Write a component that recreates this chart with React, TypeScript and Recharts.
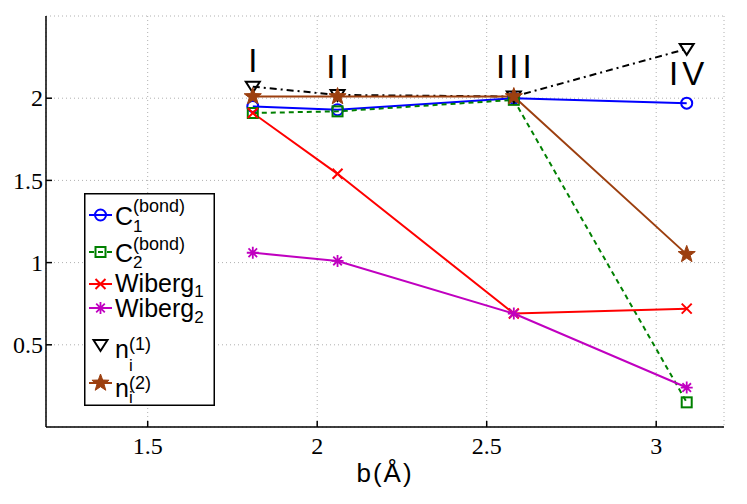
import { ComposedChart, Line, XAxis, YAxis, CartesianGrid, Legend } from "recharts";

// bond length b (Å) and the bond-order measures
const bValues = [1.81, 2.06, 2.58, 3.09];
const c1Bond = [1.95, 1.93, 2.0, 1.97];
const c2Bond = [1.91, 1.92, 1.99, 0.15];
const wiberg1 = [1.91, 1.54, 0.69, 0.72];
const wiberg2 = [1.06, 1.01, 0.69, 0.24];
const nI1 = [2.07, 2.02, 2.01, 2.3];
const nI2 = [2.01, 2.01, 2.01, 1.05];

// roman numerals above each geometry
const regionLabels = ["I", "II", "III", "IV"];
const regionLabelY = [2.16, 2.12, 2.12, 2.08];

const xTicks = [1.5, 2, 2.5, 3];
const yTicks = [0.5, 1, 1.5, 2];

const rows = bValues.map((b, i) => ({
  b,
  c1: c1Bond[i],
  c2: c2Bond[i],
  w1: wiberg1[i],
  w2: wiberg2[i],
  n1: nI1[i],
  n2: nI2[i],
  roman: regionLabelY[i],
}));

type MarkerKind = "circle" | "square" | "cross" | "asterisk" | "triangle" | "star";

const SANS = "Liberation Sans";
const SERIF = "Liberation Serif";

const series: { key: string; color: string; dash?: string; marker: MarkerKind }[] = [
  { key: "c1", color: "#0000ff", marker: "circle" },
  { key: "c2", color: "#008000", dash: "5 4", marker: "square" },
  { key: "w1", color: "#ff0000", marker: "cross" },
  { key: "w2", color: "#c000c0", marker: "asterisk" },
  { key: "n1", color: "#000000", dash: "7 4 2 4", marker: "triangle" },
  { key: "n2", color: "#9c3f0f", marker: "star" },
];

function Marker({ kind, cx, cy, color }: { kind: MarkerKind; cx: number; cy: number; color: string }) {
  switch (kind) {
    case "circle":
      return <circle cx={cx} cy={cy} r={5.5} fill="none" stroke={color} strokeWidth={2} />;
    case "square":
      return <rect x={cx - 5} y={cy - 5} width={10} height={10} fill="none" stroke={color} strokeWidth={2} />;
    case "cross":
      return (
        <path
          d={`M${cx - 5},${cy - 5}L${cx + 5},${cy + 5}M${cx - 5},${cy + 5}L${cx + 5},${cy - 5}`}
          stroke={color}
          strokeWidth={2}
        />
      );
    case "asterisk":
      return (
        <path
          d={`M${cx - 6},${cy}L${cx + 6},${cy}M${cx},${cy - 6}L${cx},${cy + 6}M${cx - 4.3},${cy - 4.3}L${cx + 4.3},${cy + 4.3}M${cx - 4.3},${cy + 4.3}L${cx + 4.3},${cy - 4.3}`}
          stroke={color}
          strokeWidth={1.8}
        />
      );
    case "triangle":
      return (
        <polygon
          points={`${cx - 7},${cy - 5} ${cx + 7},${cy - 5} ${cx},${cy + 6}`}
          fill="none"
          stroke={color}
          strokeWidth={2}
        />
      );
    case "star": {
      const pts: string[] = [];
      for (let k = 0; k < 10; k++) {
        const r = k % 2 === 0 ? 9 : 3.7;
        const a = -Math.PI / 2 + (k * Math.PI) / 5;
        pts.push(`${cx + r * Math.cos(a)},${cy + r * Math.sin(a)}`);
      }
      return <polygon points={pts.join(" ")} fill={color} stroke={color} strokeWidth={1} />;
    }
  }
  return null;
}

function RomanLabel(props: any) {
  const x = props.x ?? props.viewBox?.x;
  const y = props.y ?? props.viewBox?.y;
  return (
    <text x={x + 2} y={y} textAnchor="middle" fontFamily={SANS} fontSize={33} letterSpacing={4} fill="#000">
      {regionLabels[props.index]}
    </text>
  );
}

function XTick({ x, y, payload }: any) {
  return (
    <text x={x} y={y} dy="0.71em" textAnchor="middle" fontFamily={SERIF} fontSize={24} fill="#000">
      {payload.value}
    </text>
  );
}

function YTick({ x, y, payload }: any) {
  return (
    <text x={x} y={y} dy="0.34em" textAnchor="end" fontFamily={SERIF} fontSize={24} fill="#000">
      {payload.value}
    </text>
  );
}

function EmptyTick() {
  return <g />;
}

// legend rows: marker centre, base text and script baselines (px inside the box)
const legendRows = [
  { y: 22, base: 32, sub: 39, sup: 19 },
  { y: 59, base: 69, sub: 75, sup: 57 },
  { y: 91, base: 99, sub: 104, sup: 0 },
  { y: 115, base: 124, sub: 130, sup: 0 },
  { y: 152, base: 165, sub: 178, sup: 157 },
  { y: 190, base: 204, sub: 210, sup: 196 },
];
const legendBase = ["C", "C", "Wiberg", "Wiberg", "n", "n"];
const legendSub = ["1", "2", "1", "2", "i", "i"];
const legendSup = ["(bond)", "(bond)", "", "", "(1)", "(2)"];

function LegendBox() {
  return (
    <svg width={131} height={213} style={{ display: "block" }}>
      <rect x={0.75} y={0.75} width={129.5} height={211.5} fill="#fff" stroke="#000" strokeWidth={1.5} />
      {series.map((s, i) => {
        const r = legendRows[i];
        const wide = legendBase[i] === "Wiberg";
        const scriptX = legendBase[i] === "C" ? 49 : 45;
        return (
          <g key={s.key}>
            {s.key !== "n1" && (
              <line x1={5} x2={28} y1={r.y} y2={r.y} stroke={s.color} strokeWidth={2} strokeDasharray={s.dash} />
            )}
            <Marker kind={s.marker} cx={16.5} cy={r.y} color={s.color} />
            {wide ? (
              <text x={31} y={r.base} fontFamily={SANS} fontSize={25} fill="#000">
                {legendBase[i]}
                <tspan fontSize={17} dy={r.sub - r.base}>
                  {legendSub[i]}
                </tspan>
              </text>
            ) : (
              <>
                <text x={31} y={r.base} fontFamily={SANS} fontSize={25} fill="#000">
                  {legendBase[i]}
                </text>
                <text x={scriptX} y={r.sub} fontFamily={SANS} fontSize={17} fill="#000">
                  {legendSub[i]}
                </text>
                <text x={scriptX} y={r.sup} fontFamily={SANS} fontSize={18} fill="#000">
                  {legendSup[i]}
                </text>
              </>
            )}
          </g>
        );
      })}
    </svg>
  );
}

export default function App() {
  return (
    <div style={{ position: "absolute", left: 0, top: 0, width: 747, height: 504, background: "#fff" }}>
      <ComposedChart width={747} height={504} data={rows} margin={{ top: 16, right: 23, bottom: 0, left: 0 }}>
        <CartesianGrid stroke="#b0b0b0" strokeDasharray="1 3" />
        <XAxis
          dataKey="b"
          type="number"
          domain={[1.2, 3.2]}
          ticks={xTicks}
          interval={0}
          height={77}
          stroke="#000"
          strokeWidth={1.5}
          tickSize={-6}
          tickMargin={16}
          tick={<XTick />}
          label={{
            value: "b(Å)",
            position: "insideBottom",
            offset: 22,
            fontSize: 26,
            letterSpacing: 2,
            fill: "#000",
            fontFamily: SANS,
          }}
        />
        <XAxis
          xAxisId="top"
          orientation="top"
          dataKey="b"
          type="number"
          domain={[1.2, 3.2]}
          ticks={xTicks}
          interval={0}
          height={0}
          stroke="#000"
          strokeWidth={1.5}
          tickSize={-6}
          tick={<EmptyTick />}
        />
        <YAxis
          type="number"
          domain={[0, 2.5]}
          ticks={yTicks}
          interval={0}
          width={46}
          stroke="#000"
          strokeWidth={1.5}
          tickSize={-6}
          tickMargin={9}
          tick={<YTick />}
        />
        <YAxis
          yAxisId="right"
          orientation="right"
          type="number"
          domain={[0, 2.5]}
          ticks={yTicks}
          interval={0}
          width={0}
          stroke="#000"
          strokeWidth={1.5}
          tickSize={-6}
          tick={<EmptyTick />}
        />
        <Line
          dataKey="roman"
          stroke="none"
          dot={false}
          activeDot={false}
          isAnimationActive={false}
          label={<RomanLabel />}
        />
        {series.map((s) => (
          <Line
            key={s.key}
            dataKey={s.key}
            stroke={s.color}
            strokeWidth={2}
            strokeDasharray={s.dash}
            isAnimationActive={false}
            activeDot={false}
            dot={(p: any) => <Marker key={`${s.key}-${p.index}`} kind={s.marker} cx={p.cx} cy={p.cy} color={s.color} />}
          />
        ))}
        <Legend
          layout="vertical"
          align="center"
          verticalAlign="middle"
          wrapperStyle={{ left: 84, top: 193, width: 131, height: 213 }}
          content={() => <LegendBox />}
        />
      </ComposedChart>
    </div>
  );
}
